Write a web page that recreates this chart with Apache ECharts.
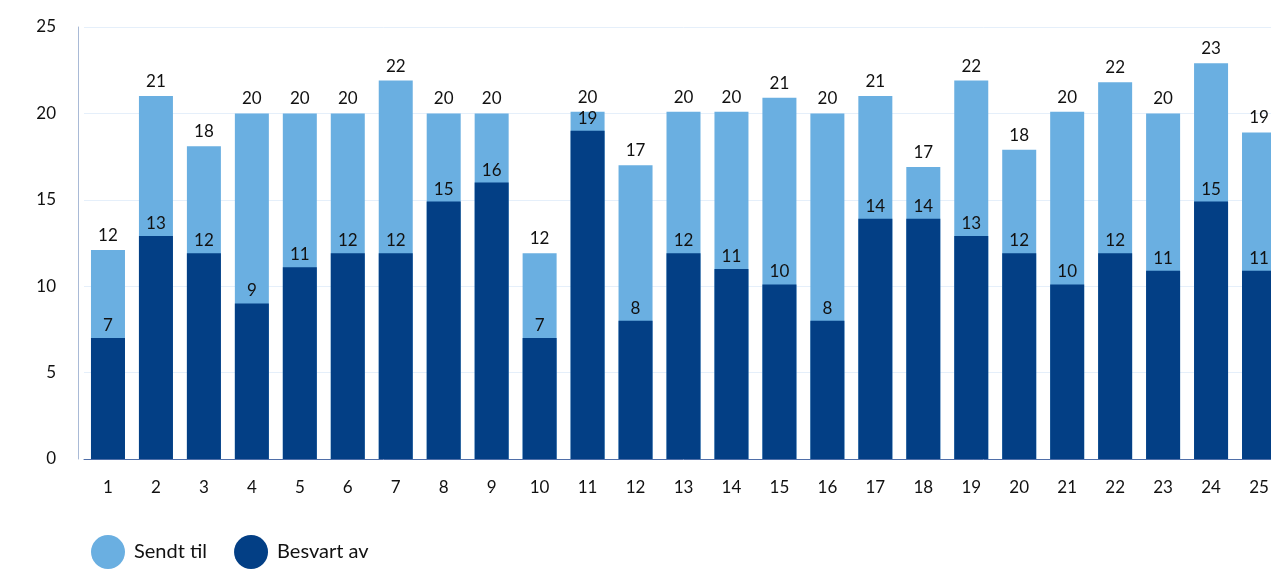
<!DOCTYPE html>
<html>
<head>
<meta charset="utf-8">
<script src="https://cdn.jsdelivr.net/npm/echarts@6/dist/echarts.min.js"></script>
<style>
  html, body { margin: 0; padding: 0; background: #fff; overflow: hidden; }
  #chart { width: 1300px; height: 569px; }
</style>
</head>
<body>
<div id="chart"></div>
<script>
var categories = ['1','2','3','4','5','6','7','8','9','10','11','12','13','14','15','16','17','18','19','20','21','22','23','24','25'];
var sendtTil = [12.1, 21, 18.1, 20, 20, 20, 21.9, 20, 20, 11.9, 20.1, 17, 20.1, 20.1, 20.9, 20, 21, 16.9, 21.9, 17.9, 20.1, 21.8, 20, 22.9, 18.9];
var besvartAv = [7, 12.9, 11.9, 9, 11.1, 11.9, 11.9, 14.9, 16, 7, 19, 8, 11.9, 11, 10.1, 8, 13.9, 13.9, 12.9, 11.9, 10.1, 11.9, 10.9, 14.9, 10.9];
var yTicks = [0, 5, 10, 15, 20, 25];

var font = 'Lato, "Open Sans", sans-serif';
var chart = echarts.init(document.getElementById('chart'));

function roundLabel(p) { return Math.round(p.value); }

chart.setOption({
  animation: false,
  textStyle: { fontFamily: font },
  grid: { left: 84, top: 27, width: 1199, bottom: 110, containLabel: false },
  legend: {
    left: 86,
    top: 530,
    icon: 'circle',
    itemWidth: 34,
    itemHeight: 34,
    itemGap: 27,
    textStyle: { fontSize: 20, color: '#111', fontFamily: font, padding: [0, 0, 0, 4] },
    data: ['Sendt til', 'Besvart av']
  },
  xAxis: {
    type: 'category',
    data: categories,
    axisLine: { lineStyle: { color: '#4f6fa8', width: 1 } },
    axisTick: { show: false },
    axisLabel: { color: '#111', fontSize: 17, margin: 20 }
  },
  yAxis: {
    type: 'value',
    min: yTicks[0],
    max: yTicks[yTicks.length - 1],
    interval: 5,
    offset: 6,
    axisLine: { show: true, lineStyle: { color: '#a9bad6' } },
    axisTick: { show: false },
    splitLine: { lineStyle: { color: '#e5effa' } },
    axisLabel: { color: '#111', fontSize: 17, margin: 22 }
  },
  series: [
    {
      name: 'Sendt til',
      type: 'bar',
      barWidth: 34,
      barGap: '-100%',
      itemStyle: { color: '#6aafe1' },
      label: { show: true, position: 'top', distance: 6, color: '#111', fontSize: 17, formatter: roundLabel },
      data: sendtTil
    },
    {
      name: 'Besvart av',
      type: 'bar',
      barWidth: 34,
      barGap: '-100%',
      itemStyle: { color: '#033f85' },
      label: { show: true, position: 'top', distance: 4, color: '#111', fontSize: 17, formatter: roundLabel },
      data: besvartAv
    }
  ]
});
</script>
</body>
</html>
